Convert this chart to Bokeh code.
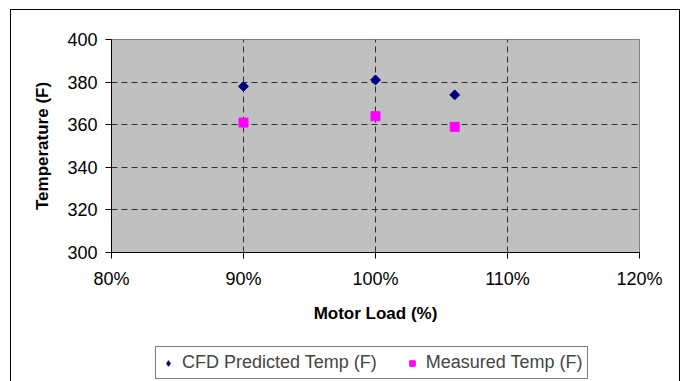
from bokeh.plotting import figure
from bokeh.layouts import column
from bokeh.models import (ColumnDataSource, FixedTicker, NumeralTickFormatter, Range1d,
                          Legend, LegendItem)
from bokeh.embed import file_html
from bokeh.resources import INLINE

motor_load = [0.90, 1.00, 1.06]
cfd_temp = [378, 381, 374]
measured_temp = [361, 364, 359]
x_ticks = [0.80, 0.90, 1.00, 1.10, 1.20]
y_ticks = [300, 320, 340, 360, 380, 400]
series_names = ["CFD Predicted Temp (F)", "Measured Temp (F)"]

FONT = "Liberation Sans"
CFD_COLOR = "#000080"
MEAS_COLOR = "#FF00FF"
DIAMOND_ANGLE = 0.7853981634  # square turned into a diamond

p = figure(width=668, height=316, output_backend="svg", toolbar_location=None,
           x_range=Range1d(0.80, 1.20), y_range=Range1d(300, 400),
           min_border_left=100, min_border_right=40, min_border_top=29, min_border_bottom=74)
p.background_fill_color = "#C0C0C0"
p.border_fill_color = "white"
p.outline_line_color = "#808080"
p.outline_line_width = 1

src = ColumnDataSource(dict(x=motor_load, cfd=cfd_temp, meas=measured_temp))
p.scatter("x", "cfd", source=src, marker="square", size=7, angle=DIAMOND_ANGLE,
          fill_color=CFD_COLOR, line_color=CFD_COLOR)
p.scatter("x", "meas", source=src, marker="square", size=9, fill_color=MEAS_COLOR,
          line_color=MEAS_COLOR)

for ax in (p.xaxis[0], p.yaxis[0]):
    ax.axis_line_color = "black"
    ax.major_tick_line_color = "black"
    ax.major_tick_out = 6
    ax.major_tick_in = 0
    ax.minor_tick_line_color = None
    ax.major_label_text_font = FONT
    ax.major_label_text_font_size = "18px"
    ax.major_label_text_color = "black"
    ax.axis_label_text_font = FONT
    ax.axis_label_text_font_size = "17px"
    ax.axis_label_text_font_style = "bold"
    ax.axis_label_text_color = "black"

p.xaxis[0].ticker = FixedTicker(ticks=x_ticks)
p.xaxis[0].formatter = NumeralTickFormatter(format="0%")
p.xaxis[0].axis_label = "Motor Load (%)"
p.xaxis[0].major_label_standoff = 10
p.xaxis[0].axis_label_standoff = 12
p.yaxis[0].ticker = FixedTicker(ticks=y_ticks)
p.yaxis[0].axis_label = "Temperature (F)"
p.yaxis[0].major_label_standoff = 8
p.yaxis[0].axis_label_standoff = 12

for g in (p.xgrid[0], p.ygrid[0]):
    g.grid_line_color = "#303030"
    g.grid_line_dash = "6 4"
    g.grid_line_width = 1
p.xgrid[0].ticker = FixedTicker(ticks=x_ticks)
p.ygrid[0].ticker = FixedTicker(ticks=y_ticks)

# legend strip below the chart (its renderers share the data but fall outside this strip's ranges)
pl = figure(width=668, height=55, output_backend="svg", toolbar_location=None,
            x_range=Range1d(0, 0.5), y_range=Range1d(0, 1),
            x_axis_type=None, y_axis_type=None,
            min_border_left=0, min_border_right=0, min_border_top=0, min_border_bottom=0)
pl.outline_line_color = None
pl.background_fill_color = "white"
pl.border_fill_color = "white"
pl.grid.visible = False
lr1 = pl.scatter("x", "cfd", source=src, marker="diamond", size=12,
                 fill_color=CFD_COLOR, line_color=CFD_COLOR)
lr2 = pl.scatter("x", "meas", source=src, marker="square", size=9,
                 fill_color=MEAS_COLOR, line_color=MEAS_COLOR)
legend = Legend(items=[LegendItem(label=series_names[0], renderers=[lr1]),
                       LegendItem(label=series_names[1], renderers=[lr2])],
                orientation="horizontal", location=(44, 2),
                label_text_font=FONT, label_text_font_size="18px",
                border_line_color="black", border_line_width=1,
                padding=5, spacing=28, glyph_width=14, glyph_height=16,
                label_standoff=7, margin=0)
pl.add_layout(legend, "center")

layout = column(p, pl, spacing=0)
layout.margin = (9, 0, 0, 10)
layout.styles = {"border-left": "1px solid black", "border-top": "1px solid black",
                 "border-right": "1px solid black"}

open("out.html", "w").write(file_html(layout, INLINE))
